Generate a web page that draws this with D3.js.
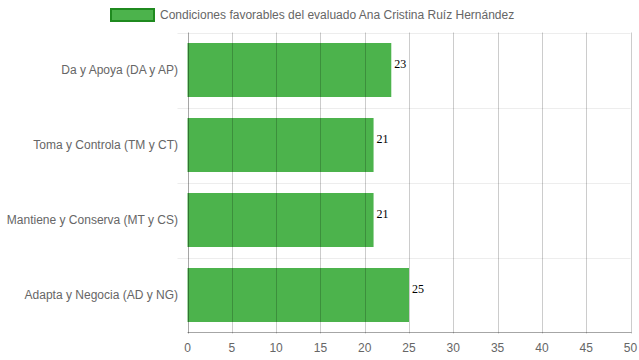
<!DOCTYPE html>
<html><head><meta charset="utf-8">
<script src="https://cdn.jsdelivr.net/npm/d3@7"></script>
<style>body{margin:0;background:#fff}svg{display:block}</style>
</head><body><svg id="c" width="639" height="360"></svg>
<script>
const categories = ["Da y Apoya (DA y AP)", "Toma y Controla (TM y CT)", "Mantiene y Conserva (MT y CS)", "Adapta y Negocia (AD y NG)"];
const values = [23, 21, 21, 25];
const xTicks = [0,5,10,15,20,25,30,35,40,45,50];
const seriesName = "Condiciones favorables del evaluado Ana Cristina Ruíz Hernández";

(function(){
const svg = d3.select("#c");
const pL = 187.5, pR = 630.5, pT = 32.5, pB = 332.5;
const font = "Liberation Sans, Arial, Helvetica, sans-serif";
const x = d3.scaleLinear().domain([0, 50]).range([pL, pR]);
const y = d3.scaleBand().domain(categories).range([pT, pB]).paddingInner(0.28).paddingOuter(0.14);
const yb = d3.scaleBand().domain(categories).range([pT, pB]);

// horizontal grid (light)
const hlines = [pT].concat(categories.slice(1).map(c => yb(c)));
svg.append("g").selectAll("line").data(hlines).join("line")
  .attr("x1", pL - 10).attr("x2", pR).attr("y1", d => Math.round(d)+0.5).attr("y2", d => Math.round(d)+0.5)
  .attr("stroke", "rgba(0,0,0,0.07)").attr("stroke-width", 1);

// bars
svg.append("g").selectAll("rect").data(values).join("rect")
  .attr("x", x(0)).attr("y", (d,i) => y(categories[i]))
  .attr("width", d => x(d) - x(0)).attr("height", y.bandwidth())
  .attr("fill", "#4cb34c");

// vertical grid
svg.append("g").selectAll("line").data(xTicks).join("line")
  .attr("x1", d => Math.round(x(d))+0.5).attr("x2", d => Math.round(x(d))+0.5)
  .attr("y1", pT).attr("y2", pB + 1)
  .attr("stroke", d => d === 0 ? "rgba(0,0,0,0.35)" : "rgba(0,0,0,0.2)").attr("stroke-width", 1);

// x axis line
svg.append("line").attr("x1", pL).attr("x2", pR + 1).attr("y1", pB).attr("y2", pB)
  .attr("stroke", "rgba(0,0,0,0.35)");

// x tick labels
svg.append("g").selectAll("text").data(xTicks).join("text")
  .attr("x", d => x(d)).attr("y", 352).attr("text-anchor", "middle")
  .attr("font-family", font).attr("font-size", 12).attr("fill", "#666").text(d => d);

// y labels
svg.append("g").selectAll("text").data(categories).join("text")
  .attr("x", 178).attr("y", d => yb(d) + yb.bandwidth()/2).attr("dy", "0.35em")
  .attr("text-anchor", "end").attr("font-family", font).attr("font-size", 12).attr("fill", "#666").text(d => d);

// value labels
svg.append("g").selectAll("text").data(values).join("text")
  .attr("x", d => x(d) + 3).attr("y", (d,i) => yb(categories[i]) + yb.bandwidth()/2 - 6).attr("dy", "0.35em")
  .attr("font-family", "Liberation Serif, Times New Roman, serif").attr("font-size", 12).attr("fill", "#000").text(d => d);

// legend
svg.append("rect").attr("x", 111).attr("y", 9).attr("width", 43).attr("height", 12)
  .attr("fill", "#4cb34c").attr("stroke", "#1f8a1f").attr("stroke-width", 2);
svg.append("text").attr("x", 160).attr("y", 15).attr("dy", "0.35em")
  .attr("font-family", font).attr("font-size", 12).attr("fill", "#666").text(seriesName);
})();
</script></body></html>
